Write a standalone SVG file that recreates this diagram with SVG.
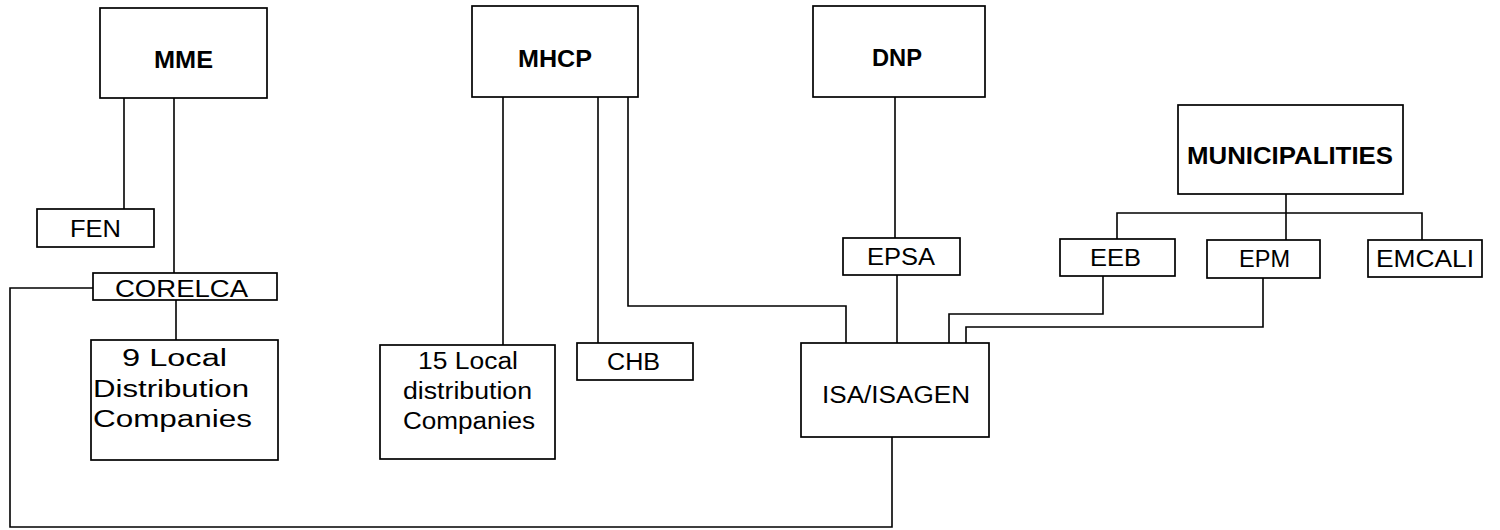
<svg xmlns="http://www.w3.org/2000/svg" width="1500" height="530" viewBox="0 0 1500 530">
<style>
.box{fill:#fff;stroke:#000;stroke-width:1.7}
.c{fill:none;stroke:#000;stroke-width:1.6}
.t{font-family:"Liberation Sans",Arial,sans-serif;font-size:23.5px;fill:#000}
.b{font-weight:bold}
</style>
<rect width="1500" height="530" fill="#fff"/>
<g id="connectors">
<path class="c" d="M124,98 V209"/>
<path class="c" d="M174,98 V273"/>
<path class="c" d="M176,300 V340"/>
<path class="c" d="M93,288 H10 V527 H892 V437"/>
<path class="c" d="M503,97 V345"/>
<path class="c" d="M598,97 V343"/>
<path class="c" d="M628,97 V306 H846 V343"/>
<path class="c" d="M895,97 V238"/>
<path class="c" d="M897,275 V343"/>
<path class="c" d="M1286,194 V240"/>
<path class="c" d="M1117,239 V213 H1422 V240"/>
<path class="c" d="M1103,276 V314 H949 V343"/>
<path class="c" d="M1263,278 V327 H966 V343"/>
</g>
<g id="mme"><rect class="box" x="100" y="8" width="167" height="90"/><text class="t b" x="154" y="68" textLength="59" lengthAdjust="spacingAndGlyphs">MME</text></g>
<g id="mhcp"><rect class="box" x="472" y="6" width="166" height="91"/><text class="t b" x="518" y="67" textLength="74" lengthAdjust="spacingAndGlyphs">MHCP</text></g>
<g id="dnp"><rect class="box" x="813" y="6" width="172" height="91"/><text class="t b" x="872" y="66" textLength="50" lengthAdjust="spacingAndGlyphs">DNP</text></g>
<g id="municipalities"><rect class="box" x="1178" y="105" width="225" height="89"/><text class="t b" x="1187" y="164" textLength="206" lengthAdjust="spacingAndGlyphs">MUNICIPALITIES</text></g>
<g id="fen"><rect class="box" x="37" y="209" width="117" height="38"/><text class="t" x="70" y="237" textLength="51" lengthAdjust="spacingAndGlyphs">FEN</text></g>
<g id="corelca"><rect class="box" x="93" y="273" width="184" height="27"/><text class="t" x="115" y="297" textLength="133" lengthAdjust="spacingAndGlyphs">CORELCA</text></g>
<g id="local9"><rect class="box" x="91" y="340" width="187" height="120"/>
<text class="t" x="122" y="366" textLength="105" lengthAdjust="spacingAndGlyphs">9 Local</text>
<text class="t" x="93" y="397" textLength="156" lengthAdjust="spacingAndGlyphs">Distribution</text>
<text class="t" x="93" y="427" textLength="159" lengthAdjust="spacingAndGlyphs">Companies</text></g>
<g id="local15"><rect class="box" x="380" y="345" width="175" height="114"/>
<text class="t" x="418" y="369" textLength="100" lengthAdjust="spacingAndGlyphs">15 Local</text>
<text class="t" x="403" y="399" textLength="129" lengthAdjust="spacingAndGlyphs">distribution</text>
<text class="t" x="403" y="429" textLength="132" lengthAdjust="spacingAndGlyphs">Companies</text></g>
<g id="chb"><rect class="box" x="577" y="343" width="116" height="37"/><text class="t" x="607" y="370" textLength="53" lengthAdjust="spacingAndGlyphs">CHB</text></g>
<g id="epsa"><rect class="box" x="843" y="238" width="117" height="37"/><text class="t" x="867" y="265" textLength="68" lengthAdjust="spacingAndGlyphs">EPSA</text></g>
<g id="isa"><rect class="box" x="801" y="343" width="188" height="94"/><text class="t" x="822" y="403" textLength="148" lengthAdjust="spacingAndGlyphs">ISA/ISAGEN</text></g>
<g id="eeb"><rect class="box" x="1060" y="239" width="115" height="37"/><text class="t" x="1090" y="266" textLength="51" lengthAdjust="spacingAndGlyphs">EEB</text></g>
<g id="epm"><rect class="box" x="1207" y="240" width="113" height="38"/><text class="t" x="1239" y="267" textLength="51" lengthAdjust="spacingAndGlyphs">EPM</text></g>
<g id="emcali"><rect class="box" x="1368" y="240" width="114" height="37"/><text class="t" x="1376" y="267" textLength="98" lengthAdjust="spacingAndGlyphs">EMCALI</text></g>
</svg>
